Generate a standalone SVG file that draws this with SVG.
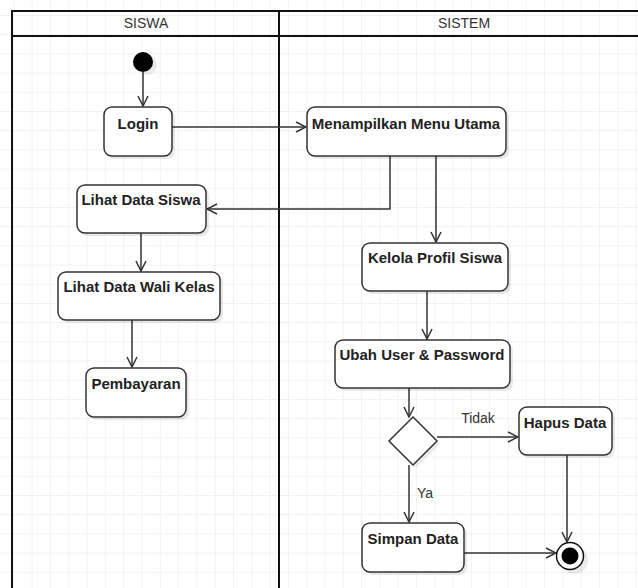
<svg xmlns="http://www.w3.org/2000/svg" width="638" height="588" viewBox="0 0 638 588">
<style>
.node{fill:#fff;stroke:#333;stroke-width:1.5}
.shadow{fill:#000;opacity:0.09}
.lbl{font-family:"Liberation Sans",Arial,sans-serif;font-size:15px;font-weight:bold;fill:#222;text-anchor:middle}
.hdr{font-family:"Liberation Sans",Arial,sans-serif;font-size:14px;fill:#333;text-anchor:middle}
.edge{fill:none;stroke:#333;stroke-width:1.5}
.elbl{font-family:"Liberation Sans",Arial,sans-serif;font-size:14px;fill:#333;text-anchor:middle}
</style>
<defs>
<pattern id="grid" x="13.4" y="15" width="18.3" height="19.2" patternUnits="userSpaceOnUse">
<path d="M0,0 H18.3 M0,0 V19.2" fill="none" stroke="#e3e6e8" stroke-width="1"/>
</pattern>
<marker id="arr" viewBox="0 0 12 12" refX="11" refY="6" markerWidth="12" markerHeight="12" markerUnits="userSpaceOnUse" orient="auto">
<path d="M1,1 L11,6 L1,11" fill="none" stroke="#333" stroke-width="1.5"/>
</marker>
</defs>
<rect width="638" height="588" fill="#fff"/>
<rect width="638" height="588" fill="url(#grid)"/>
<g id="pool">
<path d="M12,600 V11 H650 M12,36 H650 M279,11 V600" fill="none" stroke="#111" stroke-width="2"/>
<text class="hdr" x="146" y="28">SISWA</text>
<text class="hdr" x="464" y="28">SISTEM</text>
</g>
<g id="connectors">
<path class="edge" d="M143,72 V106" marker-end="url(#arr)"/>
<path class="edge" d="M172,127 H306" marker-end="url(#arr)"/>
<path class="edge" d="M390,156 V209 H207" marker-end="url(#arr)"/>
<path class="edge" d="M436,156 V242" marker-end="url(#arr)"/>
<path class="edge" d="M141,233 V271" marker-end="url(#arr)"/>
<path class="edge" d="M132,320 V367" marker-end="url(#arr)"/>
<path class="edge" d="M427,291 V339" marker-end="url(#arr)"/>
<path class="edge" d="M409,388 V417" marker-end="url(#arr)"/>
<path class="edge" d="M437,437 H518" marker-end="url(#arr)"/>
<path class="edge" d="M409,465 V522" marker-end="url(#arr)"/>
<path class="edge" d="M464,553 H556" marker-end="url(#arr)"/>
<path class="edge" d="M567,455 V542" marker-end="url(#arr)"/>
<text class="elbl" x="478" y="423">Tidak</text>
<text class="elbl" x="425" y="498">Ya</text>
</g>
<g id="start">
<circle cx="147" cy="65" r="10" fill="#000" opacity="0.08"/>
<circle cx="143" cy="62" r="10" fill="#000"/>
</g>
<g id="login">
<rect class="shadow" x="107" y="110" width="68" height="49" rx="8"/>
<rect class="node" x="104" y="107" width="68" height="49" rx="8"/>
<text class="lbl" x="138" y="129">Login</text>
</g>
<g id="menu">
<rect class="shadow" x="310" y="110" width="199" height="49" rx="8"/>
<rect class="node" x="307" y="107" width="199" height="49" rx="8"/>
<text class="lbl" x="406" y="129">Menampilkan Menu Utama</text>
</g>
<g id="lihat-siswa">
<rect class="shadow" x="80" y="188" width="129" height="48" rx="8"/>
<rect class="node" x="77" y="185" width="129" height="48" rx="8"/>
<text class="lbl" x="141" y="205">Lihat Data Siswa</text>
</g>
<g id="wali-kelas">
<rect class="shadow" x="61" y="275" width="162" height="48" rx="8"/>
<rect class="node" x="58" y="272" width="162" height="48" rx="8"/>
<text class="lbl" x="139" y="292">Lihat Data Wali Kelas</text>
</g>
<g id="pembayaran">
<rect class="shadow" x="89" y="371" width="100" height="49" rx="8"/>
<rect class="node" x="86" y="368" width="100" height="49" rx="8"/>
<text class="lbl" x="136" y="389">Pembayaran</text>
</g>
<g id="kelola">
<rect class="shadow" x="365" y="246" width="146" height="48" rx="8"/>
<rect class="node" x="362" y="243" width="146" height="48" rx="8"/>
<text class="lbl" x="435" y="263">Kelola Profil Siswa</text>
</g>
<g id="ubah">
<rect class="shadow" x="338" y="343" width="175" height="48" rx="8"/>
<rect class="node" x="335" y="340" width="175" height="48" rx="8"/>
<text class="lbl" x="422" y="360">Ubah User &amp; Password</text>
</g>
<g id="decision">
<path d="M416,420 L440,444 L416,468 L392,444 Z" fill="#000" opacity="0.08"/>
<path class="node" d="M413,417 L437,441 L413,465 L389,441 Z"/>
</g>
<g id="hapus">
<rect class="shadow" x="522" y="410" width="93" height="48" rx="8"/>
<rect class="node" x="519" y="407" width="93" height="48" rx="8"/>
<text class="lbl" x="565" y="428">Hapus Data</text>
</g>
<g id="simpan">
<rect class="shadow" x="365" y="526" width="102" height="49" rx="8"/>
<rect class="node" x="362" y="523" width="102" height="49" rx="8"/>
<text class="lbl" x="413" y="544">Simpan Data</text>
</g>
<g id="end">
<circle cx="574" cy="560" r="14" fill="#000" opacity="0.08"/>
<circle cx="570" cy="556" r="13.5" fill="#fff" stroke="#111" stroke-width="1.5"/>
<circle cx="570" cy="556" r="8.5" fill="#000"/>
</g>
</svg>
